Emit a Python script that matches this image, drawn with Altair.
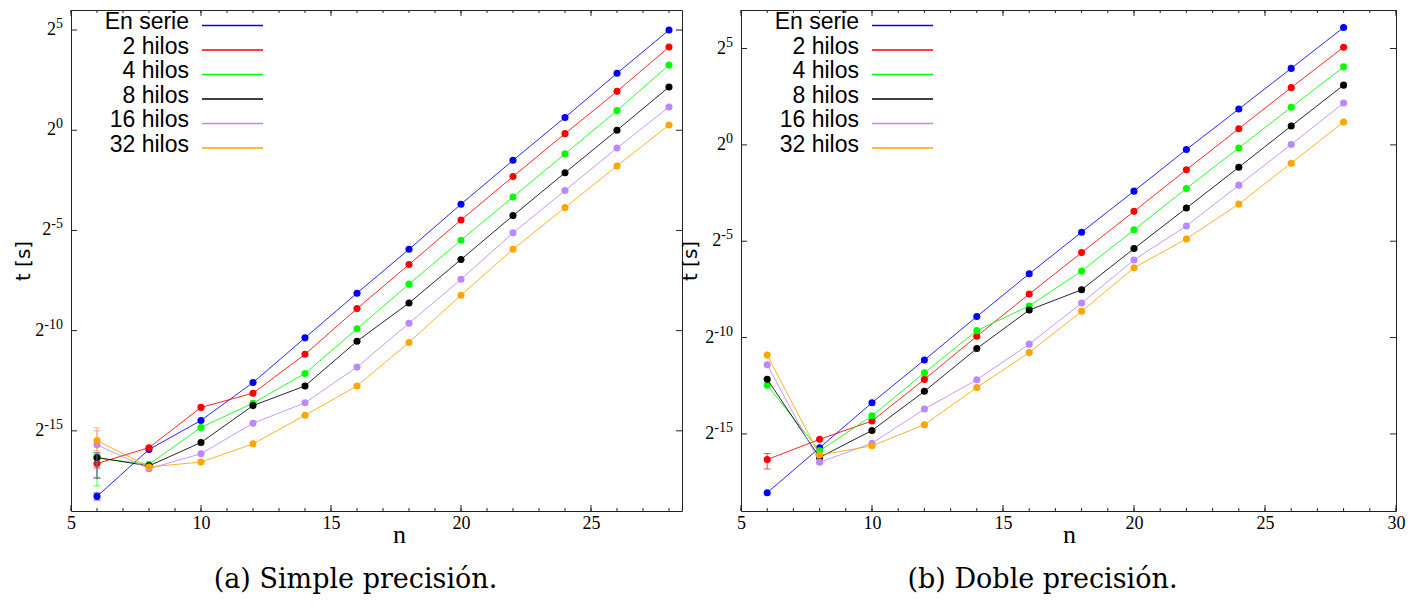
import altair as alt
import pandas as pd

# ---------------- data (log2 of t [s]) ----------------
n_vals = [6, 8, 10, 12, 14, 16, 18, 20, 22, 24, 26, 28]
series_names = ["En serie", "2 hilos", "4 hilos", "8 hilos", "16 hilos", "32 hilos"]
series_colors = ["#0000ff", "#ff0000", "#00ff00", "#000000", "#bb88ff", "#ffa500"]

# (a) Simple precision
simple_serie = [-18.27, -15.93, -14.48, -12.59, -10.36, -8.13, -5.94, -3.69, -1.50, 0.64, 2.84, 5.00]
simple_h2 = [-16.63, -15.84, -13.83, -13.12, -11.18, -8.90, -6.70, -4.48, -2.31, -0.17, 1.94, 4.15]
simple_h4 = [-16.36, -16.67, -14.83, -13.62, -12.14, -9.91, -7.68, -5.49, -3.33, -1.18, 0.98, 3.25]
simple_h8 = [-16.33, -16.75, -15.58, -13.74, -12.76, -10.53, -8.62, -6.45, -4.26, -2.12, 0.00, 2.16]
simple_h16 = [-15.70, -16.89, -16.14, -14.62, -13.60, -11.82, -9.63, -7.44, -5.12, -3.01, -0.89, 1.16]
simple_h32 = [-15.48, -16.80, -16.56, -15.65, -14.22, -12.76, -10.59, -8.23, -5.94, -3.86, -1.78, 0.26]
# error bars at n = 6 (low, high)
simple_err_low = [-18.45, -16.85, -17.75, -17.36, -17.30, -16.00]
simple_err_high = [-18.10, -16.40, -16.20, -16.10, -15.00, -14.85]

# (b) Doble precision
double_serie = [-18.05, -15.72, -13.38, -11.16, -8.91, -6.69, -4.53, -2.40, -0.24, 1.86, 3.97, 6.09]
double_h2 = [-16.33, -15.28, -14.33, -12.17, -9.93, -7.74, -5.59, -3.45, -1.29, 0.84, 2.97, 5.07]
double_h4 = [-12.47, -15.88, -14.06, -11.83, -9.64, -8.36, -6.55, -4.41, -2.26, -0.16, 1.95, 4.05]
double_h8 = [-12.16, -16.22, -14.82, -12.79, -10.57, -8.57, -7.52, -5.38, -3.28, -1.16, 0.98, 3.10]
double_h16 = [-11.41, -16.47, -15.48, -13.71, -12.19, -10.34, -8.21, -5.97, -4.21, -2.09, 0.02, 2.17]
double_h32 = [-10.91, -16.10, -15.62, -14.52, -12.59, -10.78, -8.64, -6.38, -4.88, -3.07, -0.95, 1.19]
double_err_low = [None, -16.82, None, None, None, None]
double_err_high = [None, -16.02, None, None, None, None]

y_tick_values = [-15, -10, -5, 0, 5]
y_tick_exponents = ["-15", "-10", "-5", "0", "5"]

FRAME = "#222222"
EXP_SIZE = 14
BASE_SIZE = 18
LABEL_GAP = 8


def exp_width(s):
    return sum(0.5 * EXP_SIZE if ch.isdigit() else 0.333 * EXP_SIZE for ch in s)


def panel(series, err_low, err_high, xmax, x_major, ymax, W, H, caption, cap_dx, title_x):
    xscale = alt.Scale(domain=[5, xmax], nice=False, zero=False)
    yscale = alt.Scale(domain=[-19, ymax], nice=False, zero=False)
    xaxis = alt.Axis(values=x_major, ticks=False, grid=False, domain=False,
                     labelFont="Liberation Serif", labelFontSize=18, labelPadding=3,
                     labelFlush=False, labelColor="#000",
                     title="n", titleFont="Liberation Serif", titleFontSize=26,
                     titleFontWeight="normal", titleColor="#000",
                     titleX=328, titleY=31, titleAlign="center", titleBaseline="alphabetic")
    yaxis = alt.Axis(values=y_tick_values, labels=False, ticks=False, grid=False,
                     domain=False,
                     title="t [s]", titleFont="DejaVu Sans", titleFontSize=20,
                     titleFontWeight="normal", titleColor="#000",
                     titleX=title_x, titleY=H / 2, titleAlign="center",
                     titleBaseline="middle", titleAngle=270)

    def X(f="n"):
        return alt.X(f"{f}:Q", scale=xscale, axis=xaxis)

    def Y(f="log2t"):
        return alt.Y(f"{f}:Q", scale=yscale, axis=yaxis)

    layers = []
    # tick marks (inward, gnuplot style)
    minor = pd.DataFrame({"n": list(range(5, int(xmax) + 1))})
    major = pd.DataFrame({"n": x_major})
    ymaj = pd.DataFrame({"log2t": y_tick_values})
    for df, ln in ((minor, 3), (major, 6)):
        layers.append(alt.Chart(df).mark_rule(color=FRAME, strokeWidth=1).encode(
            x=X(), y=alt.value(H), y2=alt.value(H - ln)))
        layers.append(alt.Chart(df).mark_rule(color=FRAME, strokeWidth=1).encode(
            x=X(), y=alt.value(0), y2=alt.value(ln)))
    layers.append(alt.Chart(ymaj).mark_rule(color=FRAME, strokeWidth=1).encode(
        y=Y(), x=alt.value(0), x2=alt.value(6)))
    layers.append(alt.Chart(ymaj).mark_rule(color=FRAME, strokeWidth=1).encode(
        y=Y(), x=alt.value(W), x2=alt.value(W - 6)))

    # y tick labels "2" with raised exponent
    lab = pd.DataFrame({"log2t": y_tick_values, "exp": y_tick_exponents, "base": "2"})
    lab["ex"] = -LABEL_GAP
    lab["bx"] = [-LABEL_GAP - exp_width(s) for s in y_tick_exponents]
    layers.append(alt.Chart(lab).mark_text(align="right", baseline="middle",
                                           font="Liberation Serif", fontSize=BASE_SIZE,
                                           color="#000").encode(
        x=alt.X("bx:Q", scale=None, axis=None), y=Y(), text="base:N"))
    layers.append(alt.Chart(lab).mark_text(align="right", baseline="alphabetic", dy=-2,
                                           font="Liberation Serif", fontSize=EXP_SIZE,
                                           color="#000").encode(
        x=alt.X("ex:Q", scale=None, axis=None), y=Y(), text="exp:N"))

    # series
    for i, (name, col, vals) in enumerate(zip(series_names, series_colors, series)):
        df = pd.DataFrame({"n": n_vals, "log2t": vals, "series": name})
        layers.append(alt.Chart(df).mark_line(color=col, strokeWidth=1, opacity=0.85).encode(
            x=X(), y=Y()))
        if err_low[i] is not None:
            edf = pd.DataFrame({"n": [6], "lo": [err_low[i]], "hi": [err_high[i]]})
            layers.append(alt.Chart(edf).mark_rule(color=col, strokeWidth=1, opacity=0.7).encode(
                x=X(), y=Y("lo"), y2="hi:Q"))
            cdf = pd.DataFrame({"n": [6, 6], "log2t": [err_low[i], err_high[i]]})
            layers.append(alt.Chart(cdf).mark_tick(color=col, orient="horizontal", size=7,
                                                   thickness=1, opacity=0.7).encode(
                x=X(), y=Y()))
        layers.append(alt.Chart(df).mark_circle(color=col, size=50, opacity=1).encode(
            x=X(), y=Y()))

    # key (labels on the left, line samples on the right)
    key = pd.DataFrame({
        "series": series_names,
        "ty": [12.0 + 24.5 * i for i in range(len(series_names))],
        "ly": [15.5 + 24.5 * i for i in range(len(series_names))],
    })
    layers.append(alt.Chart(key).mark_text(align="right", baseline="middle",
                                           font="Liberation Sans", fontSize=23,
                                           color="#000").encode(
        x=alt.value(118), y=alt.Y("ty:Q", scale=None, axis=None), text="series:N"))
    layers.append(alt.Chart(key).mark_rule(strokeWidth=1.3).encode(
        x=alt.value(131), x2=alt.value(192), y=alt.Y("ly:Q", scale=None, axis=None),
        color=alt.Color("series:N", scale=alt.Scale(domain=series_names, range=series_colors),
                        legend=None)))

    return alt.layer(*layers).properties(
        width=W, height=H,
        title=alt.TitleParams(caption, orient="bottom", anchor="middle", frame="group",
                              font="DejaVu Serif", fontSize=27, fontWeight="normal",
                              color="#000", dx=cap_dx, offset=20))


left = panel([simple_serie, simple_h2, simple_h4, simple_h8, simple_h16, simple_h32],
             simple_err_low, simple_err_high, 28.5, [5, 10, 15, 20, 25], 6,
             611, 501, "(a) Simple precisión.", -21, -48)
right = panel([double_serie, double_h2, double_h4, double_h8, double_h16, double_h32],
              double_err_low, double_err_high, 30, [5, 10, 15, 20, 25, 30], 7,
              655, 501, "(b) Doble precisión.", -26, -51)

chart = alt.hconcat(left, right, spacing=-4).properties(
    padding={"left": 4, "top": 1, "right": 0, "bottom": 0}
).configure_view(stroke=FRAME, strokeWidth=1)

chart.save("out.html", embed_options={"renderer": "svg", "actions": False})
